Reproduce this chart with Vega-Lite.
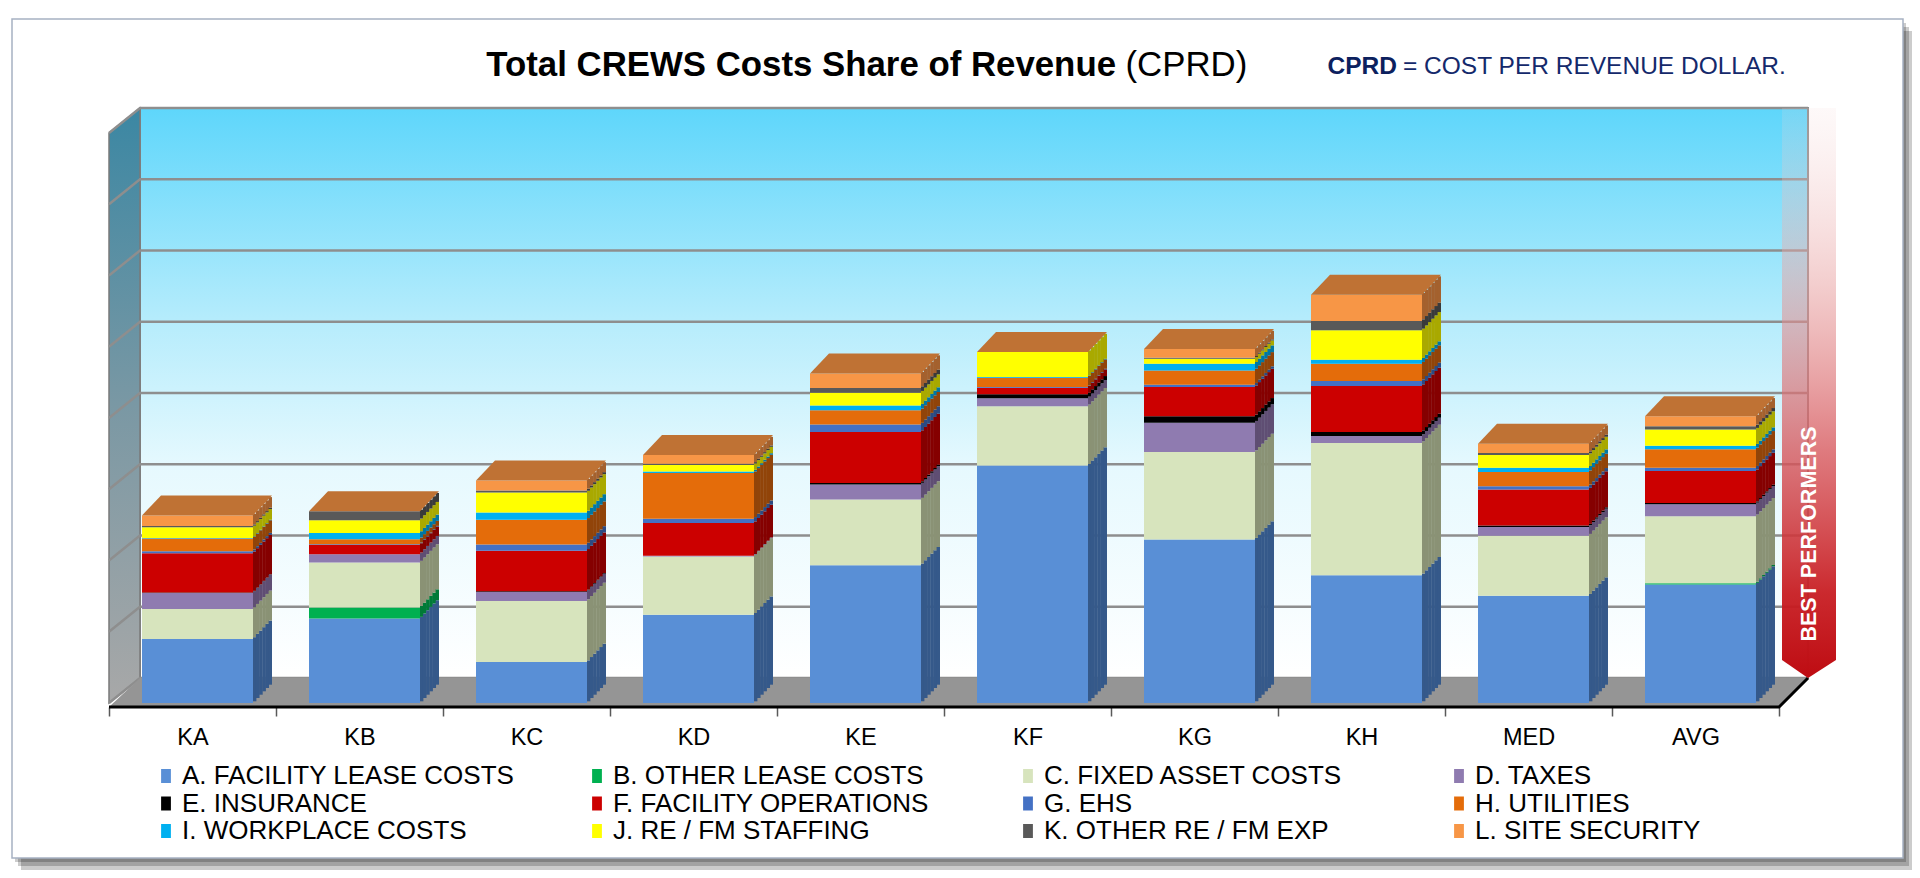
{
"$schema":"https://vega.github.io/schema/vega-lite/v6.json",
"width":1670,"height":570,
"autosize":{"type":"none"},
"padding":{"left":109,"top":133,"right":141,"bottom":175},
"background":"#ffffff",
"config":{"view":{"stroke":null},"font":"Liberation Sans"},
"datasets":{
"grid":[{"g":0},{"g":1},{"g":2},{"g":3},{"g":4},{"g":5},{"g":6},{"g":7},{"g":8}],
"costs":[
{"site":"KA","cat":"A. FACILITY LEASE COSTS","v":0.900},{"site":"KA","cat":"B. OTHER LEASE COSTS","v":0},{"site":"KA","cat":"C. FIXED ASSET COSTS","v":0.420},{"site":"KA","cat":"D. TAXES","v":0.225},{"site":"KA","cat":"E. INSURANCE","v":0.005},{"site":"KA","cat":"F. FACILITY OPERATIONS","v":0.553},{"site":"KA","cat":"G. EHS","v":0.028},{"site":"KA","cat":"H. UTILITIES","v":0.177},{"site":"KA","cat":"I. WORKPLACE COSTS","v":0.007},{"site":"KA","cat":"J. RE / FM STAFFING","v":0.150},{"site":"KA","cat":"K. OTHER RE / FM EXP","v":0.018},{"site":"KA","cat":"L. SITE SECURITY","v":0.150},
{"site":"KB","cat":"A. FACILITY LEASE COSTS","v":1.185},{"site":"KB","cat":"B. OTHER LEASE COSTS","v":0.154},{"site":"KB","cat":"C. FIXED ASSET COSTS","v":0.632},{"site":"KB","cat":"D. TAXES","v":0.117},{"site":"KB","cat":"E. INSURANCE","v":0},{"site":"KB","cat":"F. FACILITY OPERATIONS","v":0.131},{"site":"KB","cat":"G. EHS","v":0.010},{"site":"KB","cat":"H. UTILITIES","v":0.070},{"site":"KB","cat":"I. WORKPLACE COSTS","v":0.088},{"site":"KB","cat":"J. RE / FM STAFFING","v":0.178},{"site":"KB","cat":"K. OTHER RE / FM EXP","v":0.126},{"site":"KB","cat":"L. SITE SECURITY","v":0},
{"site":"KC","cat":"A. FACILITY LEASE COSTS","v":0.575},{"site":"KC","cat":"B. OTHER LEASE COSTS","v":0},{"site":"KC","cat":"C. FIXED ASSET COSTS","v":0.856},{"site":"KC","cat":"D. TAXES","v":0.126},{"site":"KC","cat":"E. INSURANCE","v":0.010},{"site":"KC","cat":"F. FACILITY OPERATIONS","v":0.570},{"site":"KC","cat":"G. EHS","v":0.088},{"site":"KC","cat":"H. UTILITIES","v":0.347},{"site":"KC","cat":"I. WORKPLACE COSTS","v":0.102},{"site":"KC","cat":"J. RE / FM STAFFING","v":0.281},{"site":"KC","cat":"K. OTHER RE / FM EXP","v":0.028},{"site":"KC","cat":"L. SITE SECURITY","v":0.140},
{"site":"KD","cat":"A. FACILITY LEASE COSTS","v":1.239},{"site":"KD","cat":"B. OTHER LEASE COSTS","v":0},{"site":"KD","cat":"C. FIXED ASSET COSTS","v":0.818},{"site":"KD","cat":"D. TAXES","v":0.010},{"site":"KD","cat":"E. INSURANCE","v":0},{"site":"KD","cat":"F. FACILITY OPERATIONS","v":0.459},{"site":"KD","cat":"G. EHS","v":0.060},{"site":"KD","cat":"H. UTILITIES","v":0.641},{"site":"KD","cat":"I. WORKPLACE COSTS","v":0.022},{"site":"KD","cat":"J. RE / FM STAFFING","v":0.090},{"site":"KD","cat":"K. OTHER RE / FM EXP","v":0.018},{"site":"KD","cat":"L. SITE SECURITY","v":0.122},
{"site":"KE","cat":"A. FACILITY LEASE COSTS","v":1.933},{"site":"KE","cat":"B. OTHER LEASE COSTS","v":0},{"site":"KE","cat":"C. FIXED ASSET COSTS","v":0.922},{"site":"KE","cat":"D. TAXES","v":0.211},{"site":"KE","cat":"E. INSURANCE","v":0.022},{"site":"KE","cat":"F. FACILITY OPERATIONS","v":0.716},{"site":"KE","cat":"G. EHS","v":0.104},{"site":"KE","cat":"H. UTILITIES","v":0.200},{"site":"KE","cat":"I. WORKPLACE COSTS","v":0.066},{"site":"KE","cat":"J. RE / FM STAFFING","v":0.182},{"site":"KE","cat":"K. OTHER RE / FM EXP","v":0.065},{"site":"KE","cat":"L. SITE SECURITY","v":0.202},
{"site":"KF","cat":"A. FACILITY LEASE COSTS","v":3.332},{"site":"KF","cat":"B. OTHER LEASE COSTS","v":0},{"site":"KF","cat":"C. FIXED ASSET COSTS","v":0.832},{"site":"KF","cat":"D. TAXES","v":0.112},{"site":"KF","cat":"E. INSURANCE","v":0.056},{"site":"KF","cat":"F. FACILITY OPERATIONS","v":0.094},{"site":"KF","cat":"G. EHS","v":0.008},{"site":"KF","cat":"H. UTILITIES","v":0.132},{"site":"KF","cat":"I. WORKPLACE COSTS","v":0.008},{"site":"KF","cat":"J. RE / FM STAFFING","v":0.351},{"site":"KF","cat":"K. OTHER RE / FM EXP","v":0},{"site":"KF","cat":"L. SITE SECURITY","v":0},
{"site":"KG","cat":"A. FACILITY LEASE COSTS","v":2.293},{"site":"KG","cat":"B. OTHER LEASE COSTS","v":0},{"site":"KG","cat":"C. FIXED ASSET COSTS","v":1.229},{"site":"KG","cat":"D. TAXES","v":0.413},{"site":"KG","cat":"E. INSURANCE","v":0.088},{"site":"KG","cat":"F. FACILITY OPERATIONS","v":0.411},{"site":"KG","cat":"G. EHS","v":0.034},{"site":"KG","cat":"H. UTILITIES","v":0.200},{"site":"KG","cat":"I. WORKPLACE COSTS","v":0.094},{"site":"KG","cat":"J. RE / FM STAFFING","v":0.070},{"site":"KG","cat":"K. OTHER RE / FM EXP","v":0.014},{"site":"KG","cat":"L. SITE SECURITY","v":0.121},
{"site":"KH","cat":"A. FACILITY LEASE COSTS","v":1.792},{"site":"KH","cat":"B. OTHER LEASE COSTS","v":0},{"site":"KH","cat":"C. FIXED ASSET COSTS","v":1.857},{"site":"KH","cat":"D. TAXES","v":0.098},{"site":"KH","cat":"E. INSURANCE","v":0.056},{"site":"KH","cat":"F. FACILITY OPERATIONS","v":0.646},{"site":"KH","cat":"G. EHS","v":0.070},{"site":"KH","cat":"H. UTILITIES","v":0.244},{"site":"KH","cat":"I. WORKPLACE COSTS","v":0.056},{"site":"KH","cat":"J. RE / FM STAFFING","v":0.411},{"site":"KH","cat":"K. OTHER RE / FM EXP","v":0.131},{"site":"KH","cat":"L. SITE SECURITY","v":0.370},
{"site":"MED","cat":"A. FACILITY LEASE COSTS","v":1.507},{"site":"MED","cat":"B. OTHER LEASE COSTS","v":0},{"site":"MED","cat":"C. FIXED ASSET COSTS","v":0.842},{"site":"MED","cat":"D. TAXES","v":0.121},{"site":"MED","cat":"E. INSURANCE","v":0.020},{"site":"MED","cat":"F. FACILITY OPERATIONS","v":0.505},{"site":"MED","cat":"G. EHS","v":0.046},{"site":"MED","cat":"H. UTILITIES","v":0.200},{"site":"MED","cat":"I. WORKPLACE COSTS","v":0.062},{"site":"MED","cat":"J. RE / FM STAFFING","v":0.177},{"site":"MED","cat":"K. OTHER RE / FM EXP","v":0.028},{"site":"MED","cat":"L. SITE SECURITY","v":0.132},
{"site":"AVG","cat":"A. FACILITY LEASE COSTS","v":1.662},{"site":"AVG","cat":"B. OTHER LEASE COSTS","v":0.018},{"site":"AVG","cat":"C. FIXED ASSET COSTS","v":0.940},{"site":"AVG","cat":"D. TAXES","v":0.168},{"site":"AVG","cat":"E. INSURANCE","v":0.018},{"site":"AVG","cat":"F. FACILITY OPERATIONS","v":0.449},{"site":"AVG","cat":"G. EHS","v":0.048},{"site":"AVG","cat":"H. UTILITIES","v":0.257},{"site":"AVG","cat":"I. WORKPLACE COSTS","v":0.052},{"site":"AVG","cat":"J. RE / FM STAFFING","v":0.225},{"site":"AVG","cat":"K. OTHER RE / FM EXP","v":0.046},{"site":"AVG","cat":"L. SITE SECURITY","v":0.140}
]},
"layer":[
{"data":{"name":"costs"},"mark":{"type":"bar","width":111,"xOffset":5,"opacity":0},"encoding":{
"x":{"field":"site","type":"nominal","scale":{"domain":["KA","KB","KC","KD","KE","KF","KG","KH","MED","AVG"],"paddingInner":0,"paddingOuter":0},"axis":{"title":null,"orient":"bottom","offset":4,"domain":false,"ticks":true,"tickBand":"extent","tickSize":9,"tickColor":"#595959","tickWidth":1.5,"labelFont":"Liberation Sans","labelFontSize":23.5,"labelColor":"#000000","labelPadding":9,"labelAngle":0,"grid":false}},
"y":{"field":"v","type":"quantitative","stack":"zero","scale":{"domain":[0,8],"nice":false,"zero":true},"axis":null},
"order":{"field":"cat"}}},
{"data":{"values":[{}]},"mark":{"type":"point","shape":"M1710.5,-672H1719.5V167H-171.5V155H1710.5Z","size":4,"filled":true,"fill":"#000000","opacity":0.2,"strokeWidth":0},"encoding":{"x":{"datum":"KA"},"y":{"datum":0,"axis":null}}},
{"data":{"values":[{}]},"mark":{"type":"point","shape":"M1710.5,-676H1716.5V163H-174.5V155H1710.5Z","size":4,"filled":true,"fill":"#000000","opacity":0.2,"strokeWidth":0},"encoding":{"x":{"datum":"KA"},"y":{"datum":0,"axis":null}}},
{"data":{"values":[{}]},"mark":{"type":"point","shape":"M1710.5,-680H1713.5V159H-177.5V155H1710.5Z","size":4,"filled":true,"fill":"#000000","opacity":0.2,"strokeWidth":0},"encoding":{"x":{"datum":"KA"},"y":{"datum":0,"axis":null}}},
{"data":{"values":[{}]},"mark":{"type":"point","shape":"M-180.5,-684H1710.5V155H-180.5Z","size":4,"filled":false,"opacity":1,"stroke":"#a7b1c2","strokeWidth":1.5},"encoding":{"x":{"datum":"KA"},"y":{"datum":0,"axis":null}}},
{"data":{"values":[{}]},"mark":{"type":"point","shape":"M-52.5,-595H1615.5V-25H-52.5Z","size":4,"filled":true,"opacity":1,"fill":{"gradient":"linear","x1":0,"y1":0,"x2":0,"y2":1,"stops":[{"offset":0,"color":"#5ed6fb"},{"offset":0.37,"color":"#b5ecfc"},{"offset":0.63,"color":"#e6f9fe"},{"offset":1,"color":"#ffffff"}]},"stroke":"#8c8c8c","strokeWidth":2},"encoding":{"x":{"datum":"KA"},"y":{"datum":0,"axis":null}}},
{"data":{"values":[{}]},"mark":{"type":"point","shape":"M-83.5,-570L-52.5,-595L-52.5,-25L-83.5,0Z","size":4,"filled":true,"opacity":1,"fill":{"gradient":"linear","x1":0,"y1":0,"x2":0,"y2":1,"stops":[{"offset":0,"color":"#3b87a3"},{"offset":0.5,"color":"#7a98a4"},{"offset":1,"color":"#a8a8a8"}]},"stroke":"#7a7a7a","strokeWidth":1.5},"encoding":{"x":{"datum":"KA"},"y":{"datum":0,"axis":null}}},
{"data":{"name":"grid"},"mark":{"type":"point","shape":"M-83.5,0L-52.5,-25H1615.5","size":4,"filled":false,"opacity":1,"stroke":"#8e8e8e","strokeWidth":2.5},"encoding":{"x":{"datum":"KA"},"y":{"field":"g","type":"quantitative","axis":null}}},
{"data":{"values":[{}]},"mark":{"type":"point","shape":"M-83.5,4H1586.5L1615.5,-25H-52.5Z","size":4,"filled":true,"opacity":1,"fill":"#959595","strokeWidth":0},"encoding":{"x":{"datum":"KA"},"y":{"datum":0,"axis":null}}},
{"data":{"values":[{}]},"mark":{"type":"point","shape":"M-83.5,4H1586.5L1615.5,-25","size":4,"filled":false,"opacity":1,"stroke":"#000000","strokeWidth":3},"encoding":{"x":{"datum":"KA"},"y":{"datum":0,"axis":null}}},
{"data":{"values":[{}]},"mark":{"type":"point","shape":"M86.5,-595H140.5V-43L112.5,-25L86.5,-43Z","size":4,"filled":true,"opacity":1,"strokeWidth":0,"fill":{"gradient":"linear","x1":0,"y1":0,"x2":0,"y2":1,"stops":[{"offset":0,"color":"rgba(245,215,215,0.15)"},{"offset":0.3,"color":"rgba(232,160,160,0.5)"},{"offset":0.6,"color":"rgba(215,90,95,0.8)"},{"offset":0.85,"color":"rgba(200,30,35,0.95)"},{"offset":1,"color":"rgba(190,12,18,1)"}]}},"encoding":{"x":{"datum":"AVG"},"y":{"datum":0,"axis":null}}},
{"data":{"values":[{"t":"BEST PERFORMERS"}]},"mark":{"type":"text","angle":270,"align":"center","baseline":"middle","font":"Liberation Sans","fontSize":21.5,"fontWeight":"bold","color":"#ffffff","xOffset":114.5,"yOffset":-169},"encoding":{"x":{"datum":"AVG"},"y":{"datum":0,"axis":null},"text":{"field":"t"}}},
{"data":{"name":"costs"},"mark":{"type":"bar","width":3.6,"xOffset":62.1,"yOffset":-1.7,"y2Offset":-1.7},"encoding":{"x":{"field":"site","type":"nominal"},"y":{"field":"v","type":"quantitative","stack":"zero","axis":null},"order":{"field":"cat"},"fill":{"field":"cat","type":"nominal","legend":null,"scale":{"domain":["L. SITE SECURITY","K. OTHER RE / FM EXP","J. RE / FM STAFFING","I. WORKPLACE COSTS","H. UTILITIES","G. EHS","F. FACILITY OPERATIONS","E. INSURANCE","D. TAXES","C. FIXED ASSET COSTS","B. OTHER LEASE COSTS","A. FACILITY LEASE COSTS"],"range":["#a4612e","#3a3a3a","#a9a900","#0077a3","#914409","#2c4b82","#850000","#000000","#5f4e73","#8a9275","#007a37","#35598a"]}}}},
{"data":{"name":"costs"},"mark":{"type":"bar","width":3.6,"xOffset":65.25,"yOffset":-5,"y2Offset":-5},"encoding":{"x":{"field":"site","type":"nominal"},"y":{"field":"v","type":"quantitative","stack":"zero","axis":null},"order":{"field":"cat"},"fill":{"field":"cat","type":"nominal","legend":null}}},
{"data":{"name":"costs"},"mark":{"type":"bar","width":3.6,"xOffset":68.4,"yOffset":-8.3,"y2Offset":-8.3},"encoding":{"x":{"field":"site","type":"nominal"},"y":{"field":"v","type":"quantitative","stack":"zero","axis":null},"order":{"field":"cat"},"fill":{"field":"cat","type":"nominal","legend":null}}},
{"data":{"name":"costs"},"mark":{"type":"bar","width":3.6,"xOffset":71.6,"yOffset":-11.7,"y2Offset":-11.7},"encoding":{"x":{"field":"site","type":"nominal"},"y":{"field":"v","type":"quantitative","stack":"zero","axis":null},"order":{"field":"cat"},"fill":{"field":"cat","type":"nominal","legend":null}}},
{"data":{"name":"costs"},"mark":{"type":"bar","width":3.6,"xOffset":74.75,"yOffset":-15,"y2Offset":-15},"encoding":{"x":{"field":"site","type":"nominal"},"y":{"field":"v","type":"quantitative","stack":"zero","axis":null},"order":{"field":"cat"},"fill":{"field":"cat","type":"nominal","legend":null}}},
{"data":{"name":"costs"},"mark":{"type":"bar","width":3.4,"xOffset":77.8,"yOffset":-18.3,"y2Offset":-18.3},"encoding":{"x":{"field":"site","type":"nominal"},"y":{"field":"v","type":"quantitative","stack":"zero","axis":null},"order":{"field":"cat"},"fill":{"field":"cat","type":"nominal","legend":null}}},
{"data":{"name":"costs"},"mark":{"type":"bar","width":111,"xOffset":5},"encoding":{
"x":{"field":"site","type":"nominal"},
"y":{"field":"v","type":"quantitative","stack":"zero","axis":null},
"order":{"field":"cat"},
"color":{"field":"cat","type":"nominal","scale":{"domain":["A. FACILITY LEASE COSTS","B. OTHER LEASE COSTS","C. FIXED ASSET COSTS","D. TAXES","E. INSURANCE","F. FACILITY OPERATIONS","G. EHS","H. UTILITIES","I. WORKPLACE COSTS","J. RE / FM STAFFING","K. OTHER RE / FM EXP","L. SITE SECURITY"],"range":["#598fd6","#00b050","#d7e4bd","#8f7bb0","#000000","#cc0000","#4471c4","#e46c0a","#00b0f0","#ffff00","#595959","#f79646"]},
"legend":{"title":null,"orient":"none","legendX":44,"legendY":630,"direction":"horizontal","columns":4,"gridAlign":"all","columnPadding":69,"rowPadding":1.5,"symbolType":"M-0.7,-1L0.7,-1L0.7,1L-0.7,1Z","symbolSize":196,"symbolStrokeWidth":0,"symbolOpacity":1,"labelFont":"Liberation Sans","labelFontSize":26,"labelColor":"#000000","labelOffset":3,"labelLimit":0,"padding":0}}}},
{"data":{"name":"costs"},"transform":[{"aggregate":[{"op":"sum","field":"v","as":"tot"}],"groupby":["site"]}],"mark":{"type":"point","shape":"M-50.5,0H60.5L79.5,-20H-31.5Z","size":4,"filled":true,"opacity":1,"fill":"#bf7234","strokeWidth":0},"encoding":{"x":{"field":"site","type":"nominal"},"y":{"field":"tot","type":"quantitative","axis":null}}},
{"data":{"values":[{"t":"Total CREWS Costs Share of Revenue"}]},"mark":{"type":"text","align":"right","baseline":"alphabetic","font":"Liberation Sans","fontSize":34.8,"fontWeight":"bold","color":"#000000","xOffset":-78.5,"yOffset":-57},"encoding":{"x":{"datum":"KG"},"y":{"datum":8,"axis":null},"text":{"field":"t"}}},
{"data":{"values":[{"t":"(CPRD)"}]},"mark":{"type":"text","align":"left","baseline":"alphabetic","font":"Liberation Sans","fontSize":34.8,"fontWeight":"normal","color":"#000000","xOffset":-69,"yOffset":-57},"encoding":{"x":{"datum":"KG"},"y":{"datum":8,"axis":null},"text":{"field":"t"}}},
{"data":{"values":[{"t":"CPRD"}]},"mark":{"type":"text","align":"right","baseline":"alphabetic","font":"Liberation Sans","fontSize":24.5,"fontWeight":"bold","color":"#0c215e","xOffset":35.5,"yOffset":-59},"encoding":{"x":{"datum":"KH"},"y":{"datum":8,"axis":null},"text":{"field":"t"}}},
{"data":{"values":[{"t":"= COST PER REVENUE DOLLAR."}]},"mark":{"type":"text","align":"left","baseline":"alphabetic","font":"Liberation Sans","fontSize":24.5,"fontWeight":"normal","color":"#14296b","xOffset":41.5,"yOffset":-59},"encoding":{"x":{"datum":"KH"},"y":{"datum":8,"axis":null},"text":{"field":"t"}}}
]
}
